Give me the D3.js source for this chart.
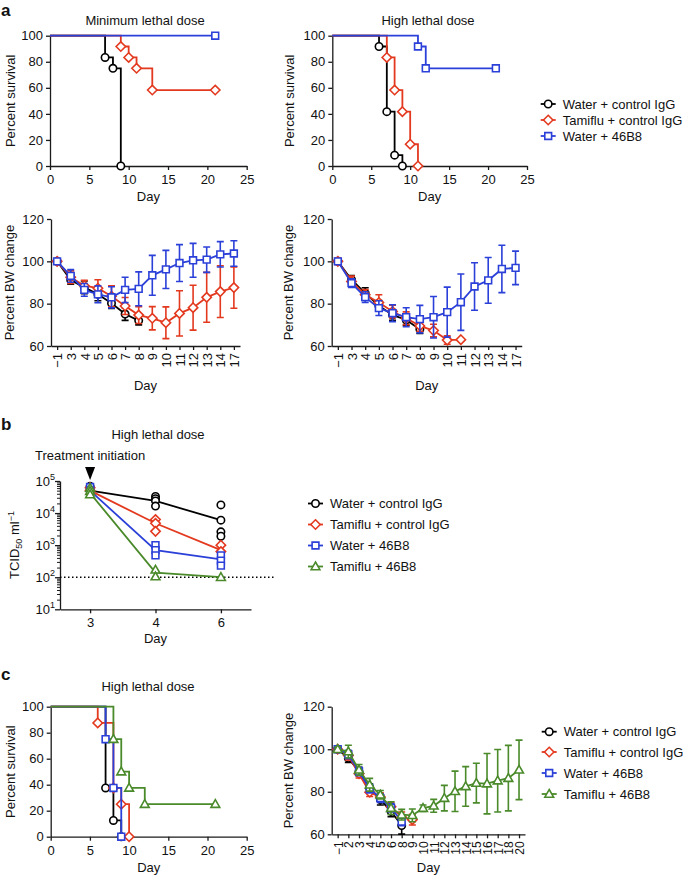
<!DOCTYPE html>
<html><head><meta charset="utf-8">
<script src="https://cdn.jsdelivr.net/npm/d3@7"></script>
<style>
body{margin:0;background:#fff;}
svg text{font-family:"Liberation Sans",Arial,Helvetica,sans-serif;}
</style></head><body>
<svg id="fig" width="685" height="876"></svg>
<script>
// ---------------- DATA ----------------
const groupLabels = ["Water + control IgG", "Tamiflu + control IgG", "Water + 46B8", "Tamiflu + 46B8"];
const survXTicks = [0, 5, 10, 15, 20, 25];
const survYTicks = [0, 20, 40, 60, 80, 100];
const bwYTicks = [60, 80, 100, 120];

// Panel a survival: [day, percent survival] step events (last point = censor)
const aMinWaterIgG   = [[0,100],[7,83.3],[8,75],[9,0]];
const aMinTamifluIgG = [[0,100],[9,91.7],[10,83.3],[11,75],[13,58.3],[21,58.3]];
const aMinWater46B8  = [[0,100],[21,100]];
const aHighWaterIgG   = [[0,100],[6,91.7],[7,41.7],[8,8.3],[9,0]];
const aHighTamifluIgG = [[0,100],[7,83.3],[8,58.3],[9,41.7],[10,16.7],[11,0]];
const aHighWater46B8  = [[0,100],[11,91.7],[12,75],[21,75]];

// Panel a body weight
const aBWDays = ["-1","3","4","5","6","7","8","9","10","11","12","13","14","17"];
const aMinBWWaterIgG      = [100, 91.2, 87.7, 84.4, 80.2, 75.1, 72];
const aMinBWWaterIgGErr   = [1, 2, 3, 3, 2.5, 3, 2];
const aMinBWTamifluIgG    = [100, 92.5, 88.5, 87.3, 83.5, 78.9, 74.6, 73.1, 71, 75.4, 78.1, 83, 85.7, 87.6];
const aMinBWTamifluIgGErr = [1, 3, 2.5, 4, 5, 4, 4, 5.5, 7.5, 10.7, 10.6, 11.8, 12.2, 9.8];
const aMinBWWater46B8     = [100, 93.1, 86.5, 84.4, 83, 86.5, 87, 93.4, 96.2, 99.2, 100.5, 100.8, 103.3, 103.7];
const aMinBWWater46B8Err  = [1, 3, 3, 4, 5, 6, 8, 9.4, 9, 8.7, 8, 6, 6, 6];

const aHighBWWaterIgG      = [100, 91.3, 85, 79, 74.7, 72.3, 67.9];
const aHighBWWaterIgGErr   = [1, 2, 2.5, 2.5, 2.5, 2.5, 2];
const aHighBWTamifluIgG    = [100, 90.5, 84.2, 80.5, 76.3, 73.1, 69.5, 67.3, 62.8, 63];
const aHighBWTamifluIgGErr = [1.5, 2.5, 2.5, 3.7, 3, 3, 2.5, 3, 2, 0];
const aHighBWWater46B8     = [100, 89.7, 83.1, 77.9, 75.5, 73.6, 72.7, 73.6, 76, 80.7, 88.1, 91, 96.4, 96.9];
const aHighBWWater46B8Err  = [1, 2, 2.5, 3.5, 4, 4.5, 6.5, 9.8, 11.8, 13.3, 11.2, 10.8, 11.2, 7.9];

// Panel b viral titres (TCID50/ml)
const bDays = ["3","4","6"];
const bYMajor = [1e1, 1e2, 1e3, 1e4, 1e5];
const bDetectionLimit = 100;
const bWaterIgGMean     = [50000, 24000, 6000];
const bWaterIgGPts      = [[68000, 55000], [33000, 28000, 24000, 16500], [18000, 6000, 2600, 1900]];
const bTamifluIgGMean   = [50000, 4800, 700];
const bTamifluIgGPts    = [[62000, 50000], [6300, 4800, 2700], [1000, 630]];
const bWater46B8Mean    = [50000, 700, 360];
const bWater46B8Pts     = [[65000, 52000], [1000, 700, 480], [480, 330, 230]];
const bTamiflu46B8Mean  = [42000, 140, 100];
const bTamiflu46B8Pts   = [[60000, 48000, 38000], [170, 105], [100]];

// Panel c survival
const cWaterIgG    = [[0,100],[7,37.5],[8,12.5],[9,0]];
const cTamifluIgG  = [[0,100],[6,87.5],[8,37.5],[9,25],[10,0]];
const cWater46B8   = [[0,100],[7,75],[8,37.5],[9,0]];
const cTamiflu46B8 = [[0,100],[8,75],[9,50],[10,37.5],[12,25],[21,25]];

// Panel c body weight
const cBWDays = ["-1","2","3","4","5","6","8","9","10","11","12","13","14","15","16","17","18","20"];
const cBWWaterIgG       = [100, 95.8, 89.5, 81.7, 76.3, 70.8, 64.1];
const cBWWaterIgGErr    = [1, 2, 2, 2, 2.5, 2.5, 4];
const cBWTamifluIgG     = [100, 97, 88.5, 79.8, 77.5, 73, 68, 66.9];
const cBWTamifluIgGErr  = [1, 2, 2, 2, 2, 2, 2.5, 2.5];
const cBWWater46B8      = [100, 97.5, 89.5, 81.5, 77, 72.5, 66];
const cBWWater46B8Err   = [1, 2, 2, 2, 2, 2, 2];
const cBWTamiflu46B8    = [100, 98.9, 90.3, 83.3, 78.6, 72.3, 69.2, 68.9, 72.3, 73.4, 77, 80.2, 82.5, 84.1, 83.8, 85.2, 86.4, 90.3];
const cBWTamiflu46B8Err = [1, 3, 2.5, 3, 2, 3, 2.5, 3, 1.5, 3, 6, 9.5, 9.3, 9.3, 14.2, 14.7, 15.4, 14];

// ---------------- STYLE ----------------
const groupColors = ["#000000", "#e3391f", "#2b40d8", "#4a8a2a"];
const groupShapes = ["circle", "diamond", "square", "triangle"];
const FF = "'Liberation Sans', Arial, Helvetica, sans-serif";
const AX = "#1a1a1a";
const LW = 1.8;

const svg = d3.select("#fig");

function marker(g, shape, cx, cy, color) {
  let el;
  if (shape === "circle") {
    el = g.append("circle").attr("cx", cx).attr("cy", cy).attr("r", 3.7);
  } else {
    let p;
    if (shape === "diamond") p = `M${cx},${cy-4.7}L${cx+4.7},${cy}L${cx},${cy+4.7}L${cx-4.7},${cy}Z`;
    else if (shape === "square") p = `M${cx-3.4},${cy-3.4}H${cx+3.4}V${cy+3.4}H${cx-3.4}Z`;
    else p = `M${cx},${cy-4.5}L${cx+4.4},${cy+3.2}L${cx-4.4},${cy+3.2}Z`;
    el = g.append("path").attr("d", p);
  }
  el.attr("fill", "#fff").attr("stroke", color).attr("stroke-width", 1.6);
}

function styleAxis(sel, fs) {
  sel.attr("font-family", FF).attr("font-size", fs || 13);
  sel.select(".domain").attr("stroke", AX).attr("stroke-width", 1.3);
  sel.selectAll(".tick line").attr("stroke", AX).attr("stroke-width", 1.3);
  sel.selectAll(".tick text").attr("fill", "#111");
}

function text(x, y, str, opts) {
  const t = svg.append("text").attr("x", x).attr("y", y).text(str)
    .attr("font-size", (opts && opts.size) || 13).attr("fill", "#111")
    .attr("text-anchor", (opts && opts.anchor) || "middle");
  if (opts && opts.bold) t.attr("font-weight", "bold");
  if (opts && opts.rotate) t.attr("transform", `rotate(-90,${x},${y})`);
  return t;
}

function survivalPanel(o) {
  const g = svg.append("g");
  const x = d3.scaleLinear().domain([0, 25]).range(o.xr);
  const y = d3.scaleLinear().domain([0, 100]).range(o.yr);
  styleAxis(g.append("g").attr("transform", `translate(0,${o.yr[0]})`)
    .call(d3.axisBottom(x).tickValues(survXTicks).tickSize(4).tickSizeOuter(0).tickPadding(5)));
  styleAxis(g.append("g").attr("transform", `translate(${o.xr[0]},0)`)
    .call(d3.axisLeft(y).tickValues(survYTicks).tickSize(4).tickSizeOuter(0).tickPadding(3)));
  o.series.forEach(s => {
    let d = `M${x(s.data[0][0])},${y(s.data[0][1])}`;
    for (let i = 1; i < s.data.length; i++) d += `H${x(s.data[i][0])}V${y(s.data[i][1])}`;
    g.append("path").attr("d", d).attr("fill", "none").attr("stroke", groupColors[s.k]).attr("stroke-width", LW);
    for (let i = 1; i < s.data.length; i++) marker(g, groupShapes[s.k], x(s.data[i][0]), y(s.data[i][1]), groupColors[s.k]);
  });
  text((o.xr[0] + o.xr[1]) / 2, o.dayY, "Day");
  text(o.ylabX, (o.yr[0] + o.yr[1]) / 2, "Percent survival", {rotate: true});
}

function bwPanel(o) {
  const g = svg.append("g");
  const x = d3.scalePoint().domain(o.days).range(o.xr).padding(o.pad);
  const y = d3.scaleLinear().domain([60, 120]).range(o.yr);
  const ax = g.append("g").attr("transform", `translate(0,${o.yr[0]})`)
    .call(d3.axisBottom(x).tickSize(4).tickSizeOuter(0).tickFormat(d => d.replace("-", "\u2212")));
  styleAxis(ax, o.xfs);
  ax.selectAll(".tick text").attr("transform", "rotate(-90)").attr("x", -7).attr("y", 0)
    .attr("dy", "0.36em").attr("text-anchor", "end");
  styleAxis(g.append("g").attr("transform", `translate(${o.xr[0]},0)`)
    .call(d3.axisLeft(y).tickValues(bwYTicks).tickSize(4).tickSizeOuter(0).tickPadding(3)));
  o.series.forEach(s => {
    const c = groupColors[s.k];
    s.vals.forEach((v, i) => {
      const e = s.errs[i]; const cx = x(o.days[i]);
      if (e > 0) {
        g.append("path").attr("d", `M${cx},${y(v - e)}V${y(v + e)}M${cx-3.5},${y(v + e)}H${cx+3.5}M${cx-3.5},${y(v - e)}H${cx+3.5}`)
          .attr("stroke", c).attr("stroke-width", 1.6).attr("fill", "none");
      }
    });
    const line = d3.line().x((v, i) => x(o.days[i])).y(v => y(v));
    g.append("path").attr("d", line(s.vals)).attr("fill", "none").attr("stroke", c).attr("stroke-width", LW);
    s.vals.forEach((v, i) => marker(g, groupShapes[s.k], x(o.days[i]), y(v), c));
  });
  text((o.xr[0] + o.xr[1]) / 2, o.dayY, "Day");
  text(o.ylabX, (o.yr[0] + o.yr[1]) / 2, "Percent BW change", {rotate: true});
}

function legend(x0, ys, ks) {
  ks.forEach((k, i) => {
    const g = svg.append("g");
    g.append("line").attr("x1", x0).attr("x2", x0 + 15).attr("y1", ys[i]).attr("y2", ys[i])
      .attr("stroke", groupColors[k]).attr("stroke-width", LW);
    marker(g, groupShapes[k], x0 + 7.5, ys[i], groupColors[k]);
    text(x0 + 22, ys[i] + 4.6, groupLabels[k], {anchor: "start"});
  });
}

// ---------------- PANEL A ----------------
text(1, 16, "a", {anchor: "start", bold: true, size: 17});
text(145, 25, "Minimum lethal dose");
text(428, 25, "High lethal dose");
survivalPanel({xr: [50, 246.7], yr: [166, 35.7], dayY: 201, ylabX: 15, series: [
  {k: 0, data: aMinWaterIgG}, {k: 1, data: aMinTamifluIgG}, {k: 2, data: aMinWater46B8}]});
survivalPanel({xr: [332.3, 527], yr: [166, 35.7], dayY: 201, ylabX: 294, series: [
  {k: 0, data: aHighWaterIgG}, {k: 1, data: aHighTamifluIgG}, {k: 2, data: aHighWater46B8}]});
legend(540.7, [104, 120, 136], [0, 1, 2]);

bwPanel({xr: [51, 240], yr: [346, 219], days: aBWDays, pad: 0.45, xfs: 13, dayY: 390, ylabX: 13.5, series: [
  {k: 0, vals: aMinBWWaterIgG, errs: aMinBWWaterIgGErr},
  {k: 1, vals: aMinBWTamifluIgG, errs: aMinBWTamifluIgGErr},
  {k: 2, vals: aMinBWWater46B8, errs: aMinBWWater46B8Err}]});
bwPanel({xr: [331.7, 521.7], yr: [346, 219], days: aBWDays, pad: 0.45, xfs: 13, dayY: 390, ylabX: 293, series: [
  {k: 0, vals: aHighBWWaterIgG, errs: aHighBWWaterIgGErr},
  {k: 1, vals: aHighBWTamifluIgG, errs: aHighBWTamifluIgGErr},
  {k: 2, vals: aHighBWWater46B8, errs: aHighBWWater46B8Err}]});

// ---------------- PANEL B ----------------
text(1, 430, "b", {anchor: "start", bold: true, size: 17});
text(158, 439, "High lethal dose");
(function () {
  const g = svg.append("g");
  const x = d3.scalePoint().domain(bDays).range([60, 251]).padding(0.46);
  const y = d3.scaleLog().domain([10, 1e5]).range([609.3, 481]);
  styleAxis(g.append("g").attr("transform", "translate(0,609.3)")
    .call(d3.axisBottom(x).tickSize(4).tickSizeOuter(0).tickPadding(4)));
  const yAx = g.append("g").attr("transform", "translate(60,0)")
    .call(d3.axisLeft(y).tickValues(bYMajor).tickSize(5).tickSizeOuter(0).tickFormat(""));
  styleAxis(yAx);
  const minors = [];
  for (let e = 1; e < 5; e++) for (let m = 2; m <= 9; m++) minors.push(m * Math.pow(10, e));
  const yMin = g.append("g").attr("transform", "translate(60,0)")
    .call(d3.axisLeft(y).tickValues(minors).tickSize(3).tickFormat(""));
  yMin.select(".domain").remove();
  yMin.selectAll(".tick line").attr("stroke", AX).attr("stroke-width", 1);
  bYMajor.forEach(v => {
    const t = g.append("text").attr("x", 55).attr("y", y(v) + 4.6).attr("text-anchor", "end")
      .attr("font-size", 13).attr("fill", "#111");
    t.append("tspan").text("10");
    t.append("tspan").attr("dy", -5.5).attr("font-size", 9).text(Math.round(Math.log10(v)));
  });
  // detection limit
  g.append("line").attr("x1", 60).attr("x2", 276).attr("y1", y(bDetectionLimit)).attr("y2", y(bDetectionLimit))
    .attr("stroke", "#000").attr("stroke-width", 1.5).attr("stroke-dasharray", "1.5,2.5");
  const groups = [
    {k: 0, mean: bWaterIgGMean, pts: bWaterIgGPts},
    {k: 1, mean: bTamifluIgGMean, pts: bTamifluIgGPts},
    {k: 2, mean: bWater46B8Mean, pts: bWater46B8Pts},
    {k: 3, mean: bTamiflu46B8Mean, pts: bTamiflu46B8Pts}];
  groups.forEach(s => {
    const c = groupColors[s.k];
    g.append("path").attr("d", d3.line().x((v, i) => x(bDays[i])).y(v => y(v))(s.mean))
      .attr("fill", "none").attr("stroke", c).attr("stroke-width", LW);
  });
  groups.forEach(s => {
    s.pts.forEach((arr, i) => arr.forEach(v => marker(g, groupShapes[s.k], x(bDays[i]), y(v), groupColors[s.k])));
  });
  // treatment initiation arrow
  const ax3 = x("3");
  g.append("path").attr("d", `M${ax3-5},467L${ax3+5},467L${ax3},480Z`).attr("fill", "#000");
  text(ax3, 460, "Treatment initiation");
  text(155.5, 643, "Day");
  const yl = svg.append("text").attr("transform", "translate(19,545) rotate(-90)").attr("text-anchor", "middle")
    .attr("font-size", 13).attr("fill", "#111");
  yl.append("tspan").text("TCID");
  yl.append("tspan").attr("dy", 3).attr("font-size", 9).text("50");
  yl.append("tspan").attr("dy", -3).text(" ml");
  yl.append("tspan").attr("dy", -5).attr("font-size", 9).text("\u22121");
})();
legend(308, [503.5, 524.5, 545.5, 566.5], [0, 1, 2, 3]);

// ---------------- PANEL C ----------------
text(1, 680, "c", {anchor: "start", bold: true, size: 17});
text(148, 691, "High lethal dose");
survivalPanel({xr: [50.7, 246.7], yr: [836.7, 706.7], dayY: 872, ylabX: 15, series: [
  {k: 0, data: cWaterIgG}, {k: 1, data: cTamifluIgG}, {k: 2, data: cWater46B8}, {k: 3, data: cTamiflu46B8}]});
bwPanel({xr: [331.7, 525], yr: [834.3, 706.7], days: cBWDays, pad: 0.56, xfs: 12, dayY: 872, ylabX: 293, series: [
  {k: 0, vals: cBWWaterIgG, errs: cBWWaterIgGErr},
  {k: 1, vals: cBWTamifluIgG, errs: cBWTamifluIgGErr},
  {k: 2, vals: cBWWater46B8, errs: cBWWater46B8Err},
  {k: 3, vals: cBWTamiflu46B8, errs: cBWTamiflu46B8Err}]});
legend(541.7, [731.7, 752, 773, 794], [0, 1, 2, 3]);
</script>
</body></html>
